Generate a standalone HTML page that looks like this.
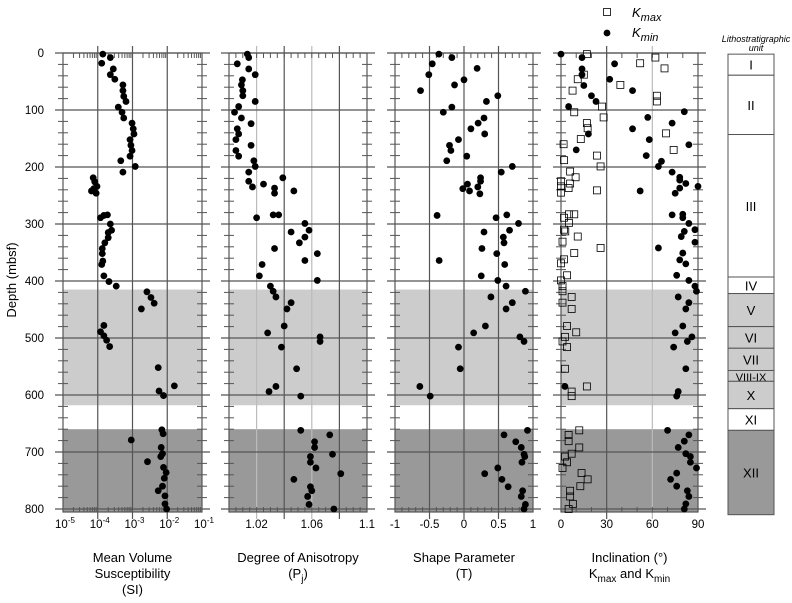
<!DOCTYPE html>
<html><head><meta charset="utf-8"><style>
body{margin:0;background:#fff;}
svg{display:block;font-family:"Liberation Sans",Arial,sans-serif;}
</style></head><body>
<svg id="chart" width="792" height="603" viewBox="0 0 792 603" xmlns="http://www.w3.org/2000/svg">
<g id="panels"></g>
<g id="legend">
 <rect x="603.5" y="8.5" width="7" height="7" fill="#fff" stroke="#000" stroke-width="0.8"/>
 <text x="632" y="17" font-size="13" font-style="italic">K<tspan font-size="11" dy="4">max</tspan></text>
 <circle cx="607" cy="33" r="3.4"/>
 <text x="632" y="37" font-size="13" font-style="italic">K<tspan font-size="11" dy="4">min</tspan></text>
</g>
<text transform="translate(16,280) rotate(-90)" text-anchor="middle" font-size="13">Depth (mbsf)</text>
<g id="yticks"></g>
<g id="lith"></g>
<text x="756" y="42" text-anchor="middle" font-size="9" font-style="italic">Lithostratigraphic</text>
<text x="756" y="51" text-anchor="middle" font-size="9" font-style="italic">unit</text>
</svg>
<script>
const depthTicks=[0,100,200,300,400,500,600,700,800];
const lightShade=[415,618];
const darkShade=[660,800];
// Panel 1: mean volume susceptibility
const susDepth=[2,8,18,28,38,46,56,66,76,85,95,104,114,123,133,142,152,162,171,181,189,199,209,219,226,234,238,242,246,284,285,289,300,311,315,324,333,343,352,365,371,391,401,409,419,429,439,449,478,489,496,504,515,552,584,593,601,661,668,679,692,703,708,717,727,736,746,760,768,777,791,800];
const susValue=[1.4e-4,2.3e-4,1.3e-4,2.8e-4,2.3e-4,3.1e-4,5.3e-4,5.3e-4,5.6e-4,6.5e-4,3.9e-4,5e-4,5.6e-4,9.7e-4,1.05e-3,1.1e-3,8.5e-4,9e-4,9.7e-4,8.5e-4,4.6e-4,1.2e-3,5.3e-4,7.4e-5,8.2e-5,9.5e-5,7.7e-5,6.6e-5,9e-5,1.9e-4,1.5e-4,1.2e-4,2.3e-4,2.5e-4,2e-4,2e-4,1.6e-4,1.35e-4,1.35e-4,1.4e-4,1.3e-4,1.5e-4,2.1e-4,3.4e-4,2.6e-3,3.4e-3,4.2e-3,1.8e-3,1.5e-4,1.2e-4,1.5e-4,1.8e-4,2.2e-4,5.5e-3,1.6e-2,5.8e-3,7.8e-3,7e-3,7.6e-3,9.2e-4,6.7e-3,7.3e-3,6.5e-3,2.7e-3,7.8e-3,9.3e-3,8.2e-3,7.3e-3,5.5e-3,8.6e-3,8.6e-3,9.6e-3];
const susTickLabels=["-5","-4","-3","-2","-1"];
// Panel 2: degree of anisotropy
const pjDepth=[2,8,19,28,38,47,56,66,75,85,94,104,114,124,133,142,152,162,171,181,189,199,209,219,225,230,235,237,246,242,284,284,289,299,314,311,323,333,343,352,371,364,391,399,409,418,428,438,449,479,491,498,506,516,554,585,594,602,662,670,682,692,704,708,718,728,738,748,761,768,778,792,800];
const pjValue=[1.0133,1.0143,1.006,1.0143,1.019,1.0097,1.009,1.010,1.010,1.019,1.007,1.004,1.009,1.016,1.006,1.007,1.005,1.016,1.005,1.007,1.018,1.019,1.0143,1.039,1.0143,1.025,1.017,1.033,1.033,1.047,1.032,1.036,1.020,1.055,1.045,1.058,1.055,1.051,1.033,1.064,1.024,1.055,1.022,1.064,1.030,1.032,1.034,1.045,1.042,1.040,1.028,1.066,1.066,1.038,1.049,1.034,1.029,1.052,1.052,1.073,1.062,1.062,1.075,1.059,1.059,1.063,1.081,1.047,1.059,1.060,1.057,1.058,1.076];
const pjTickLabels=["1.02","1.06","1.1"];
const pjTickValues=[1.02,1.06,1.1];
// Panel 3: shape parameter
const tDepth=[2,8,19,27,38,47,56,66,75,85,95,104,114,123,133,142,152,162,171,181,189,199,209,219,225,230,235,238,242,247,285,289,284,299,314,311,323,333,343,352,364,371,391,399,409,418,428,438,449,479,491,498,506,516,554,585,602,662,670,682,692,704,708,718,728,738,748,761,768,778,792,800];
const tValue=[-0.364,-0.176,-0.46,0.19,-0.51,0.0,-0.137,-0.63,0.49,0.325,-0.176,-0.30,0.29,0.205,0.10,0.30,-0.08,-0.21,-0.19,0.04,-0.25,0.70,0.54,0.24,0.24,0.05,0.20,-0.017,0.08,0.23,-0.39,0.465,0.62,0.79,0.29,0.66,0.57,0.58,0.26,0.475,-0.36,0.59,0.25,0.49,0.61,0.89,0.39,0.70,0.61,0.31,0.14,0.81,0.87,-0.08,-0.055,-0.64,-0.49,0.92,0.58,0.75,0.83,0.87,0.88,0.84,0.49,0.30,0.55,0.64,0.85,0.83,0.89,0.87];
const tTickLabels=["-1","-0.5","0","0.5","1"];
const tTickValues=[-1,-0.5,0,0.5,1];
// Panel 4: inclination
const kminDepth=[2,8,19,28,38,46,57,66,75,85,94,103,113,123,133,142,152,161,170,180,190,199,209,218,223,229,237,234,242,246,284,283,289,299,310,313,322,332,342,351,363,370,390,399,409,418,428,438,449,479,491,498,506,516,554,585,594,602,662,670,681,692,703,708,718,728,737,748,760,768,778,791,800];
const kminValue=[0,13.8,35.2,13.8,13.8,32,15,47,20,23,5,81,57,73,47,18,58,84,10,56,66,64,73,78,78,82,78,90,52,75,73,80,80,84,88,81,79,88,64,80,78,82,76,84,88,89,77,84,82,80,75,86,83,74,82,2.6,77,76,70,84,81,77,82,85,85,89,76,72,76,83,84,82,81];
const kmaxDepth=[2,8,18,27,38,46,56,66,75,85,94,104,113,123,132,141,151,160,170,180,188,199,208,218,225,229,234,237,245,241,283,283,289,298,310,313,322,331,342,351,362,369,390,399,409,418,428,438,449,479,490,498,506,516,554,585,594,602,662,670,681,692,703,708,718,728,737,748,760,768,778,791,800];
const kmaxValue=[17,62,52,68,15,11,39,7.6,63,63,27,8.7,28,17,17.5,69,13,1.7,74,23.6,2,26,6,9.6,0,6,0,5,0,23.6,5.2,8.7,2,5.2,2,2.8,11,1,26,8.7,2,0,4,0,1,1,7,1,7,4,10,2.6,1,4,2.6,17,7,7,12,5,5,12,7,2.6,4,1,13.5,17.5,12.7,6,6,7.8,5];
const incTickLabels=["0","30","60","90"];
const incTickValues=[0,30,60,90];
// Lithology
const lithNames=["I","II","III","IV","V","VI","VII","VIII-IX","X","XI","XII"];
const lithTops=[2,39,143,393,422,480,518,557,576,624,662];
const lithBottoms=[39,143,393,422,480,518,557,576,624,662,810];
const lithShade=["w","w","w","w","l","l","l","l","l","w","d"];

const NS="http://www.w3.org/2000/svg";
const Y0=53,Y1=509,FB=512;
const yS=d=>Y0+(d/800)*(Y1-Y0);
function mk(tag,attrs,parent){const e=document.createElementNS(NS,tag);for(const k in attrs)e.setAttribute(k,attrs[k]);parent.appendChild(e);return e;}
const DARK="#555",LIGHT="#bbb";
const panelsG=document.getElementById('panels');

function panel(name,x0,x1,xScale,vgrid,minor,titleLines){
 const g=mk('g',{},panelsG);
 
 
 const r1=mk('rect',{x:x0,y:yS(lightShade[0]),width:x1-x0,height:yS(lightShade[1])-yS(lightShade[0]),fill:"#cccccc"},g);
 
 const r2=mk('rect',{x:x0,y:yS(darkShade[0]),width:x1-x0,height:FB-yS(darkShade[0]),fill:"#999999"},g);
 
 vgrid.forEach(v=>{const x=xScale(v[0]);const l=mk('line',{x1:x,x2:x,y1:Y0-7,y2:FB+7,stroke:v[1]?LIGHT:DARK,'stroke-width':1.2},g);
  });
 depthTicks.forEach(d=>{const y=yS(d);const l=mk('line',{x1:x0-8,x2:x1+8,y1:y,y2:y,stroke:DARK,'stroke-width':1.2},g);
  });
 for(let d=20;d<800;d+=20){if(d%100===0)continue;const y=yS(d);
  mk('line',{x1:x0-5,x2:x0+5,y1:y,y2:y,stroke:DARK,'stroke-width':1},g);
  mk('line',{x1:x1-5,x2:x1+5,y1:y,y2:y,stroke:DARK,'stroke-width':1},g);}
 minor.forEach(v=>{const x=xScale(v);mk('line',{x1:x,x2:x,y1:Y0,y2:Y0+5,stroke:DARK,'stroke-width':1},g);mk('line',{x1:x,x2:x,y1:FB,y2:FB-5,stroke:DARK,'stroke-width':1},g);});
 const fr=mk('rect',{x:x0,y:Y0,width:x1-x0,height:FB-Y0,fill:"none",stroke:DARK,'stroke-width':1.2},g);
 
 const cx=(x0+x1)/2;
 titleLines.forEach((t,i)=>{const tx=mk('text',{x:cx,y:562+i*16,'text-anchor':'middle','font-size':13},g);tx.innerHTML=t;
  });
 return g;
}
function dots(g,name,xs,ds,xScale){xs.forEach((v,i)=>{const c=mk('circle',{cx:xScale(v),cy:yS(ds[i]),r:3.4,fill:"#000"},g);
 });}
function xlabels(g,name,vals,labs,xScale){vals.forEach((v,i)=>{const t=mk('text',{x:xScale(v),y:528,'text-anchor':'middle','font-size':11.5},g);t.textContent=labs[i];
 });}

// Panel 1
const s1=v=>63+(Math.log10(v)+5)*(202-63)/4;
let mn=[];for(let e=-5;e<-1;e++)for(let k=2;k<10;k++)mn.push(k*Math.pow(10,e));
let g1=panel('susceptibility',63,202,s1,[[1e-4,0],[1e-3,0],[1e-2,0]],mn,["Mean Volume","Susceptibility","(SI)"]);
dots(g1,'susceptibility-point',susValue,susDepth,s1);
susTickLabels.forEach((e,i)=>{const x=s1(Math.pow(10,-5+i));const t=mk('text',{x:x+2,y:528,'text-anchor':'middle','font-size':11.5},g1);
 t.innerHTML='10<tspan font-size="8" dy="-5">'+e+'</tspan>';});
// Panel 2
const s2=v=>229+(v-1.0)/0.1*(367-229);
mn=[];for(let v=1.005;v<1.1;v+=0.005)mn.push(v);
let g2=panel('anisotropy',229,367,s2,[[1.02,1],[1.04,0],[1.06,1],[1.08,0]],mn,["Degree of Anisotropy","(P<tspan font-size='10' dy='4'>j</tspan><tspan dy='-4'>)</tspan>"]);
dots(g2,'anisotropy-point',pjValue,pjDepth,s2);
xlabels(g2,'anisotropy',pjTickValues,pjTickLabels,s2);
// Panel 3
const s3=v=>395+(v+1)/2*(533-395);
mn=[];for(let v=-0.9;v<1;v+=0.1)mn.push(v);
let g3=panel('shape-parameter',395,533,s3,[[-0.5,0],[0,0],[0.5,0]],mn,["Shape Parameter","(T)"]);
dots(g3,'shape-parameter-point',tValue,tDepth,s3);
xlabels(g3,'shape-parameter',tTickValues,tTickLabels,s3);
// Panel 4
const s4=v=>561+v/90*(698-561);
mn=[];for(let v=10;v<90;v+=10)mn.push(v);
let g4=panel('inclination',561,698,s4,[[30,0],[60,1]],mn,["Inclination (°)","K<tspan font-size='10' dy='4'>max</tspan><tspan dy='-4'> and K</tspan><tspan font-size='10' dy='4'>min</tspan>"]);
kmaxValue.forEach((v,i)=>{const r=mk('rect',{x:s4(v)-3.5,y:yS(kmaxDepth[i])-3.5,width:7,height:7,fill:"none",stroke:"#000",'stroke-width':0.8},g4);
 });
dots(g4,'kmin-point',kminValue,kminDepth,s4);
xlabels(g4,'inclination',incTickValues,incTickLabels,s4);

// Y tick labels
const yt=document.getElementById('yticks');
depthTicks.forEach(d=>{const t=mk('text',{x:44,y:yS(d)+4,'text-anchor':'end','font-size':11.5},yt);t.textContent=d;
 });

// Lithology column
const lg=document.getElementById('lith');
lithNames.forEach((n,i)=>{const y0=yS(lithTops[i]),y1=yS(lithBottoms[i]);
 const r=mk('rect',{x:728,y:y0,width:46,height:y1-y0,fill:lithShade[i]==="l"?"#cccccc":lithShade[i]==="d"?"#999999":"#fff",stroke:"#555",'stroke-width':1},lg);
 
 const t=mk('text',{x:751,y:(y0+y1)/2+5,'text-anchor':'middle','font-size':n.length>3?11:13},lg);t.textContent=n;
 });
</script>
</body></html>
